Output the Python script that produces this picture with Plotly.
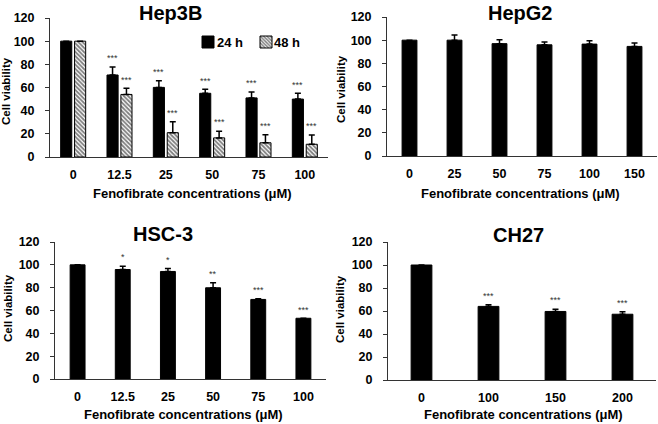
import plotly.graph_objects as go

W, H = 658, 424

# ---------------- data ----------------
hep3b_cats = ["0", "12.5", "25", "50", "75", "100"]
hep3b_24 = [100, 70.8, 60.1, 55.0, 51.0, 50.0]
hep3b_24_err = [0, 7.0, 5.8, 3.5, 5.2, 5.0]
hep3b_48 = [100, 54.0, 21.0, 16.5, 12.3, 11.0]
hep3b_48_err = [0, 5.3, 9.4, 5.8, 7.0, 8.0]
hep3b_24_sig = ["", "***", "***", "***", "***", "***"]
hep3b_48_sig = ["", "***", "***", "***", "***", "***"]

hepg2_cats = ["0", "25", "50", "75", "100", "150"]
hepg2_vals = [100, 100.0, 97.0, 96.0, 96.6, 94.6]
hepg2_err = [0, 4.5, 3.3, 2.4, 2.9, 3.0]

hsc3_cats = ["0", "12.5", "25", "50", "75", "100"]
hsc3_vals = [100, 95.9, 94.2, 79.9, 69.7, 53.2]
hsc3_err = [0, 2.9, 2.6, 4.3, 0.6, 0]
hsc3_sig = ["", "*", "*", "**", "***", "***"]

ch27_cats = ["0", "100", "150", "200"]
ch27_vals = [100, 64.0, 59.6, 57.2]
ch27_err = [0, 1.5, 2.0, 2.2]
ch27_sig = ["", "***", "***", "***"]

titles = ["Hep3B", "HepG2", "HSC-3", "CH27"]
xlabel = "Fenofibrate concentrations (μM)"
ylabel = "Cell viability"
legend_names = ["24 h", "48 h"]

# ---------------- layout helpers ----------------
def fx(px):
    return px / W

def fy(py):
    return 1 - py / H

FONT = "Liberation Sans, Arial, sans-serif"

# panel geometry in pixels: (x0, x1, y_bottom, y_top)
panels = [
    (50, 328, 157, 18),
    (387, 657, 156, 17),
    (55, 326, 379, 242),
    (388, 656, 380, 242),
]

fig = go.Figure()

def err(arr):
    return dict(type="data", array=arr, arrayminus=[0] * len(arr), symmetric=False,
                color="black", thickness=1.5, width=3)

hatch = dict(shape="\\", fgcolor="black", bgcolor="white", size=3, solidity=0.6)

# Hep3B grouped bars
fig.add_trace(go.Bar(x=hep3b_cats, y=hep3b_24, name="", legendgroup="a",
                     marker=dict(color="black", line=dict(color="black", width=1)),
                     offset=-0.27, width=0.24, error_y=err(hep3b_24_err), xaxis="x", yaxis="y", showlegend=True,
                     legend="legend"))
fig.add_trace(go.Bar(x=hep3b_cats, y=hep3b_48, name="", legendgroup="b",
                     marker=dict(color="white", line=dict(color="black", width=1), pattern=hatch),
                     offset=0.03, width=0.24, error_y=err(hep3b_48_err), xaxis="x", yaxis="y", showlegend=True,
                     legend="legend2"))

fig.add_trace(go.Bar(x=hepg2_cats, y=hepg2_vals, marker=dict(color="black", line=dict(color="black", width=1)),
                     width=0.33, error_y=err(hepg2_err), xaxis="x2", yaxis="y2", showlegend=False))
fig.add_trace(go.Bar(x=hsc3_cats, y=hsc3_vals, marker=dict(color="black", line=dict(color="black", width=1)),
                     width=0.33, error_y=err(hsc3_err), xaxis="x3", yaxis="y3", showlegend=False))
fig.add_trace(go.Bar(x=ch27_cats, y=ch27_vals, marker=dict(color="black", line=dict(color="black", width=1)),
                     width=0.31, error_y=err(ch27_err), xaxis="x4", yaxis="y4", showlegend=False))

annotations = []
star_font = dict(family=FONT, size=9, color="#333333")

def stars(cats, vals, errs, sigs, xref, yref, xshift=0):
    for i, (c, v, e, s) in enumerate(zip(cats, vals, errs, sigs)):
        if s:
            annotations.append(dict(x=i, y=v + e + 1.5, xref=xref, yref=yref, text=s, showarrow=False,
                                    xanchor="center", yanchor="bottom", xshift=xshift, font=star_font))

n = len(hep3b_cats)
cw = (panels[0][1] - panels[0][0]) / n
stars(hep3b_cats, hep3b_24, hep3b_24_err, hep3b_24_sig, "x", "y", xshift=-0.15 * cw)
stars(hep3b_cats, hep3b_48, hep3b_48_err, hep3b_48_sig, "x", "y", xshift=0.15 * cw)
stars(hsc3_cats, hsc3_vals, hsc3_err, hsc3_sig, "x3", "y3")
stars(ch27_cats, ch27_vals, ch27_err, ch27_sig, "x4", "y4")

# (x centre, top edge) of the panel titles
title_pos = [(170, 0), (520, 0), (163, 221), (518, 222)]
# (x centre, y, anchor) of the x-axis titles
xtitle_pos = [(192, 193, "middle"), (520, 193, "middle"), (183, 424, "bottom"), (523, 424, "bottom")]
ytitle_pos = [(6, 91), (341, 89), (8, 308), (340, 309)]

for i in range(4):
    annotations.append(dict(x=fx(title_pos[i][0]), y=fy(title_pos[i][1]), xref="paper", yref="paper",
                            text="<b>%s</b>" % titles[i], showarrow=False, xanchor="center", yanchor="top",
                            font=dict(family=FONT, size=20, color="black")))
    annotations.append(dict(x=fx(xtitle_pos[i][0]), y=fy(xtitle_pos[i][1]), xref="paper", yref="paper",
                            text="<b>%s</b>" % xlabel, showarrow=False, xanchor="center",
                            yanchor=xtitle_pos[i][2],
                            font=dict(family=FONT, size=13, color="black")))
    annotations.append(dict(x=fx(ytitle_pos[i][0]), y=fy(ytitle_pos[i][1]), xref="paper", yref="paper",
                            text="<b>%s</b>" % ylabel, showarrow=False, xanchor="center", yanchor="middle",
                            textangle=-90, font=dict(family=FONT, size=11.5, color="black")))

# legend labels placed right next to the legend swatches
legend_text_x = [215, 272]
for name, lx in zip(legend_names, legend_text_x):
    annotations.append(dict(x=fx(lx), y=fy(42), xref="paper", yref="paper", text="<b>%s</b>" % name,
                            showarrow=False, xanchor="left", yanchor="middle",
                            font=dict(family=FONT, size=13, color="black")))

leg_common = dict(orientation="h", yanchor="middle", xanchor="left", bgcolor="rgba(0,0,0,0)",
                  borderwidth=0, itemwidth=30, font=dict(family=FONT, size=12, color="black"))

layout = dict(
    width=W, height=H, margin=dict(l=0, r=0, t=0, b=0, pad=0, autoexpand=False),
    paper_bgcolor="white", plot_bgcolor="white",
    barmode="overlay",
    showlegend=True,
    legend=dict(x=fx(208 - 20), y=fy(42), **leg_common),
    legend2=dict(x=fx(266 - 20), y=fy(42), **leg_common),
    annotations=annotations,
)

cats_list = [hep3b_cats, hepg2_cats, hsc3_cats, ch27_cats]
for i, (x0, x1, yb, yt) in enumerate(panels):
    sfx = "" if i == 0 else str(i + 1)
    layout["xaxis" + sfx] = dict(domain=[fx(x0), fx(x1)], anchor="y" + sfx, type="category", automargin=False,
                                 range=[-0.5, len(cats_list[i]) - 0.5], showline=True, linecolor="#333", linewidth=1,
                                 ticks="", showgrid=False, zeroline=False, ticklabelstandoff=6,
                                 tickfont=dict(family=FONT, size=12.5, color="black", weight="bold"))
    layout["yaxis" + sfx] = dict(domain=[fy(yb), fy(yt)], anchor="x" + sfx, range=[0, 120], dtick=20,
                                 automargin=False,
                                 showline=True, linecolor="#333", linewidth=1, ticks="outside", ticklen=4,
                                 tickcolor="#333", showgrid=False, zeroline=False, ticklabelstandoff=8,
                                 tickfont=dict(family=FONT, size=12.5, color="black", weight="bold"))

fig.update_layout(**layout)
# remove the browser's default 8px body margin so the figure sits at the window's top-left corner
fig.write_html("out.html", config={"displayModeBar": False},
               post_script="document.body.style.margin='0';")
